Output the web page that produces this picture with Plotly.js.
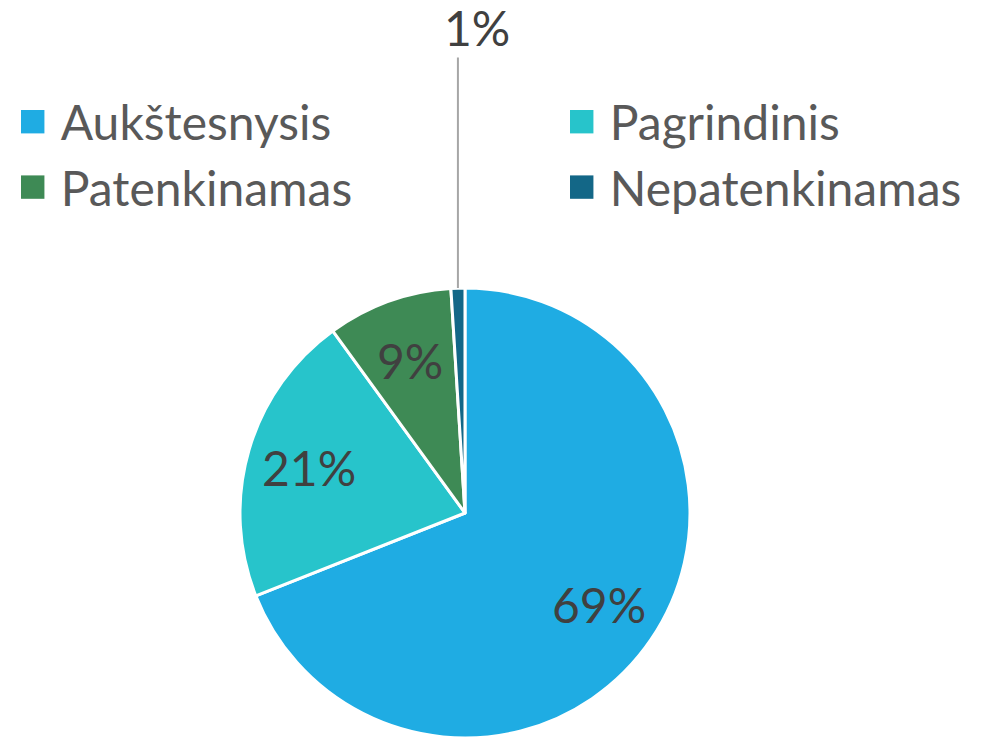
<!DOCTYPE html>
<html>
<head>
<meta charset="utf-8">
<script src="https://cdn.plot.ly/plotly-3.0.1.min.js"></script>
<style>html,body{margin:0;padding:0;background:#fff;}#chart{width:984px;height:738px;}</style>
</head>
<body>
<div id="chart"></div>
<script>
const categories = ["Aukštesnysis", "Pagrindinis", "Patenkinamas", "Nepatenkinamas"];
const shares = [69, 21, 9, 1];
const colors = ["#1FACE3", "#27C4CB", "#3E8A55", "#136787"];
const labelInside = [true, true, true, false];

const FONT = "Lato, 'Open Sans', sans-serif";
const LABEL_SIZE = 48;
const total = shares.reduce((a, b) => a + b, 0);
const pctText = shares.map(v => Math.round(v / total * 100) + "%");

const W = 984, H = 738;
const domX = [0.2439, 0.7012];
const domY = [0.0, 0.6098];

const trace = {
  type: "pie",
  labels: categories,
  values: shares,
  sort: false,
  direction: "clockwise",
  rotation: 0,
  marker: {colors: colors, line: {color: "#ffffff", width: 3}},
  textinfo: "none",
  hoverinfo: "label+percent",
  domain: {x: domX, y: domY}
};

// data labels placed along each slice's mid-angle (computed from the values)
const annotations = [];
let cum = 0;
const rPx = (domY[1] - domY[0]) * H / 2;
const cxPx = (domX[0] + domX[1]) / 2 * W;
const cyPx = H - (domY[0] + domY[1]) / 2 * H;
const LABEL_R = 0.72;
shares.forEach((v, i) => {
  const mid = (cum + v / 2) / total;
  cum += v;
  const ang = mid * 2 * Math.PI; // clockwise from top
  const s = Math.sin(ang), c = Math.cos(ang);
  const font = {family: FONT, size: LABEL_SIZE, color: "#404040"};
  if (labelInside[i]) {
    annotations.push({
      xref: "paper", yref: "paper",
      x: (cxPx + LABEL_R * rPx * s) / W,
      y: 1 - (cyPx - LABEL_R * rPx * c) / H,
      xanchor: "center", yanchor: "middle",
      text: pctText[i], showarrow: false, font: font
    });
  } else {
    const tx = (cxPx + rPx * s) / W;
    const ty = 1 - (cyPx - rPx * c) / H;
    // leader line
    annotations.push({
      xref: "paper", yref: "paper", x: tx, y: ty, text: "",
      showarrow: true, arrowhead: 0, arrowwidth: 2, arrowcolor: "#A6A6A6",
      ax: 0, ay: -232, standoff: 0
    });
    // outside label at the end of the leader
    annotations.push({
      xref: "paper", yref: "paper", x: tx, y: ty,
      xanchor: "center", yanchor: "middle",
      text: pctText[i], showarrow: false, font: font,
      xshift: 19, yshift: 261
    });
  }
});

const layout = {
  width: W, height: H,
  margin: {l: 0, r: 0, t: 0, b: 0},
  paper_bgcolor: "#ffffff",
  showlegend: true,
  legend: {
    orientation: "h",
    x: 0.0109, y: 1 - 84 / H, xanchor: "left", yanchor: "top",
    entrywidth: 430, entrywidthmode: "pixels",
    itemwidth: 40,
    bgcolor: "rgba(0,0,0,0)",
    font: {family: FONT, size: LABEL_SIZE, color: "#595959"},
    traceorder: "normal"
  },
  annotations: annotations
};

const COL_STEP = 549;
Plotly.newPlot("chart", [trace], layout, {displayModeBar: false}).then(gd => {
  const sb = gd.querySelector(".legend .scrollbox");
  if (sb) sb.removeAttribute("clip-path");
  const items = gd.querySelectorAll(".legend .traces");
  const parse = el => {
    const m = /translate\(\s*([-\d.]+)[ ,]+([-\d.]+)/.exec(el.getAttribute("transform") || "");
    return m ? [parseFloat(m[1]), parseFloat(m[2])] : [0, 0];
  };
  const p0 = items.length ? parse(items[0]) : [0, 0];
  items.forEach((el, i) => {
    const p = parse(el);
    const col = i % 2;
    el.setAttribute("transform", "translate(" + (p0[0] + col * COL_STEP) + "," + p[1] + ")");
  });
  gd.querySelectorAll(".legendpoints path").forEach(p => {
    p.setAttribute("transform", "translate(22,0) scale(1.95)");
    p.style.strokeWidth = "0";
  });
});
</script>
</body>
</html>
